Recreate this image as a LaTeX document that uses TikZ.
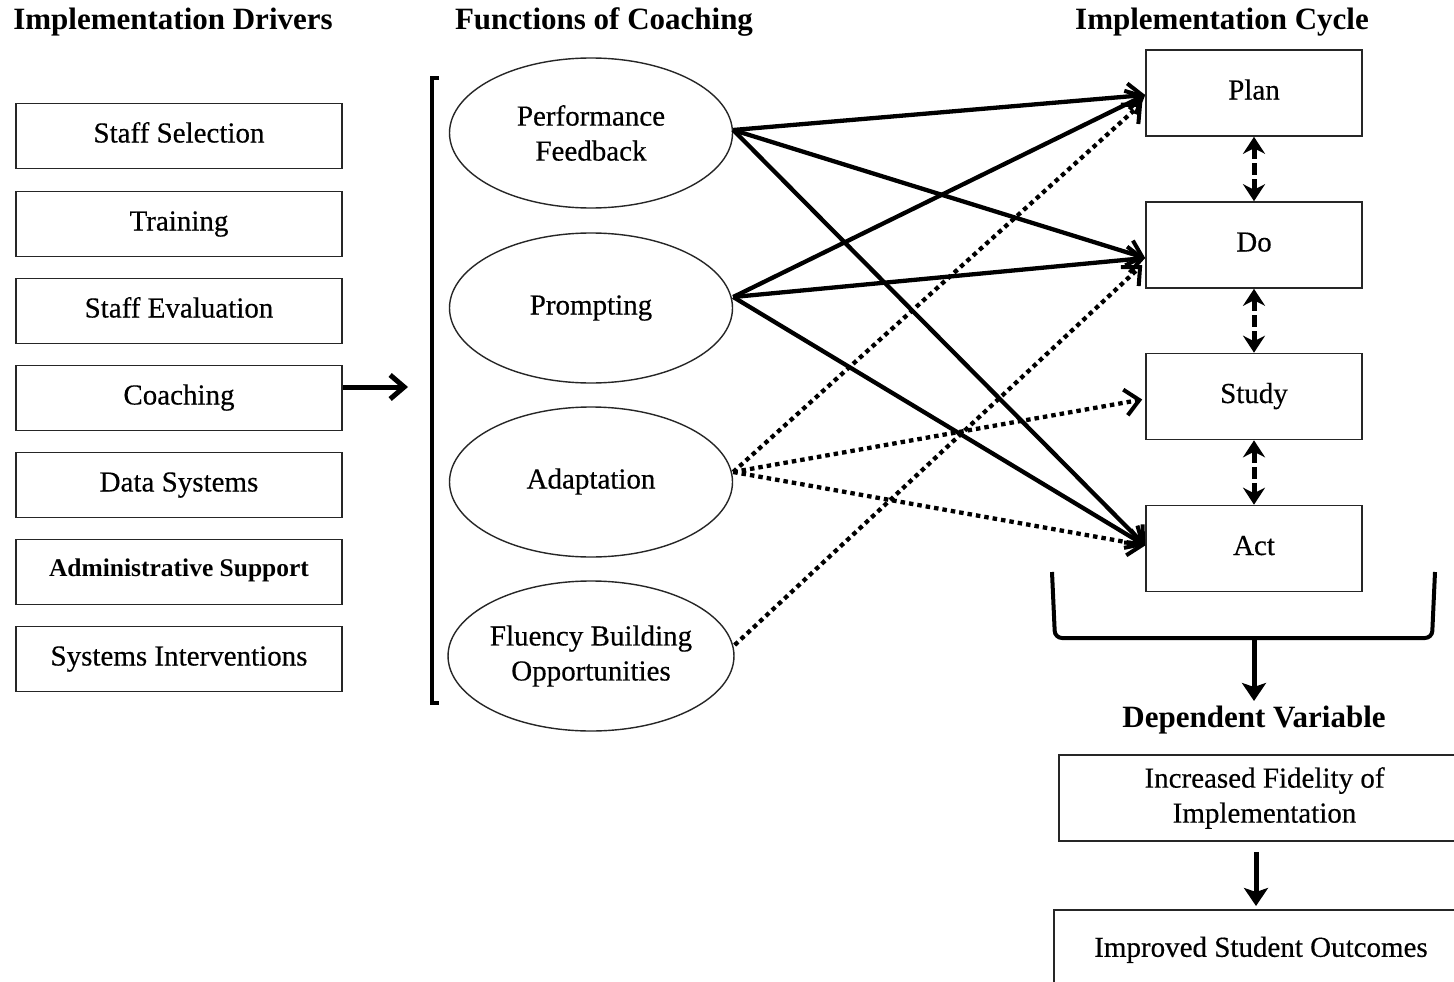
\documentclass[tikz,border=0pt]{standalone}
\usepackage{fontspec}
\setmainfont{Liberation Serif}
\newfontfamily\bodyfam{Liberation Serif}[FakeBold=0.4]
\usetikzlibrary{arrows.meta,shapes.geometric}
\begin{document}
\begin{tikzpicture}[x=1pt,y=-1pt,
  bodyfont/.style={font=\bodyfam\fontsize{29}{35}\selectfont},
  titlefont/.style={font=\bfseries\fontsize{31}{36}\selectfont},
  ttl/.style={titlefont, anchor=base, inner sep=0pt},
  lbox/.style={draw=black!85, line width=1.6pt, minimum width=326pt, minimum height=65pt, inner sep=0pt, bodyfont, text height=20pt, text depth=7pt},
  rbox/.style={draw=black!85, line width=1.6pt, minimum width=216pt, minimum height=86pt, inner sep=0pt, bodyfont, text height=20pt, text depth=7pt},
  ell/.style={draw=black!85, line width=1.4pt, ellipse, minimum width=283pt, minimum height=150pt, inner sep=0pt, bodyfont, align=center},
  solidarrow/.style={line width=4.3pt, -{Straight Barb[length=14pt,width=26pt,line width=4pt]}},
  dotarrow/.style={line width=4.3pt, dash pattern=on 4.5pt off 4pt, -{Straight Barb[length=14pt,width=26pt,line width=4pt]}},
  dblarrow/.style={line width=5pt, dash pattern=on 12pt off 4pt, {Stealth[length=17pt,width=22pt]}-{Stealth[length=17pt,width=22pt]}},
  bigarrow/.style={line width=5pt, -{Straight Barb[length=14pt,width=24pt,line width=5pt]}},
  downarrow/.style={line width=5pt, -{Stealth[length=18pt,width=24pt,inset=4pt]}}
]
\useasboundingbox (0,0) rectangle (1454,982);
\fill[white] (0,0) rectangle (1454,982);

% titles
\node[ttl] (t1) at (173,30) {Implementation Drivers};
\node[ttl] (t2) at (604,30) {Functions of Coaching};
\node[ttl] (t3) at (1222,30) {Implementation Cycle};

% left boxes
\node[lbox] (ss) at (179,136) {Staff Selection};
\node[lbox] (tr) at (179,224) {Training};
\node[lbox] (se) at (179,311) {Staff Evaluation};
\node[lbox] (co) at (179,398) {Coaching};
\node[lbox] (ds) at (179,485) {Data Systems};
\node[lbox, font=\bfseries\fontsize{25.5}{30}\selectfont, text height=17pt, text depth=8pt] (as) at (179,572) {Administrative Support};
\node[lbox] (si) at (179,659) {Systems Interventions};

% bracket
\draw[line width=4pt] (439,78) -- (432,78) -- (432,703) -- (439,703);
\coordinate (brk) at (408,387);
\draw[bigarrow] ([yshift=11pt]co.east) -- (brk);

% ellipses
\node[ell] (pf) at (591,133) {Performance\\Feedback};
\node[ell, text height=20pt, text depth=7pt] (pr) at (591,308) {Prompting};
\node[ell, text height=20pt, text depth=7pt] (ad) at (591,482) {Adaptation};
\node[ell] (fb) at (591,656) {Fluency Building\\Opportunities};

% right boxes
\node[rbox] (plan) at (1254,93) {Plan};
\node[rbox] (do) at (1254,245) {Do};
\node[rbox] (st) at (1254,396.5) {Study};
\node[rbox] (act) at (1254,548.5) {Act};

\draw[dblarrow] (plan.south) -- (do.north);
\draw[dblarrow] (do.south) -- (st.north);
\draw[dblarrow] (st.south) -- (act.north);

% connectors
\draw[solidarrow] ([yshift=3pt]pf.east) -- ([yshift=-2pt]plan.west);
\draw[solidarrow] ([yshift=3pt]pf.east) -- ([yshift=-13pt]do.west);
\draw[solidarrow] ([yshift=3pt]pf.east) -- ([yshift=3pt]act.west);
\draw[solidarrow] ([yshift=11pt]pr.east) -- ([yshift=-2pt]plan.west);
\draw[solidarrow] ([yshift=11pt]pr.east) -- ([yshift=-13pt]do.west);
\draw[solidarrow] ([yshift=11pt]pr.east) -- ([yshift=3pt]act.west);
\draw[dotarrow] ([yshift=10pt]ad.east) -- ([xshift=-3pt,yshift=-10pt]plan.west);
\draw[dotarrow] ([yshift=10pt]ad.east) -- ([xshift=-3pt,yshift=-3pt]st.west);
\draw[dotarrow] ([yshift=10pt]ad.east) -- ([yshift=3pt]act.west);
\draw[dotarrow] ([yshift=11pt]fb.east) -- ([xshift=-3pt,yshift=-20pt]do.west);

% bottom bracket
\draw[line width=4pt, rounded corners=7pt] (1052,572) -- (1055,638) -- (1432,638) -- (1435,572);
\coordinate (bb) at (1254,638);
\node[ttl] (dv) at (1254,727) {Dependent Variable};
\draw[downarrow] (bb) -- (1254,701) coordinate (bbend);

% outcome boxes
\node[draw=black!85, line width=1.6pt, minimum width=411pt, minimum height=86pt, inner sep=0pt, bodyfont, align=center] (fid) at (1264.5,798) {Increased Fidelity of\\Implementation};
\node[draw=black!85, line width=1.6pt, anchor=north, minimum width=414pt, inner xsep=0pt, inner ysep=27pt, bodyfont, text height=20pt, text depth=50pt] (imp) at (1261,909) {Improved Student Outcomes};
\draw[downarrow, shorten <=10pt, shorten >=3pt] (fid.south -| 1256,0) -- (imp.north -| 1256,0);
\end{tikzpicture}
\end{document}
